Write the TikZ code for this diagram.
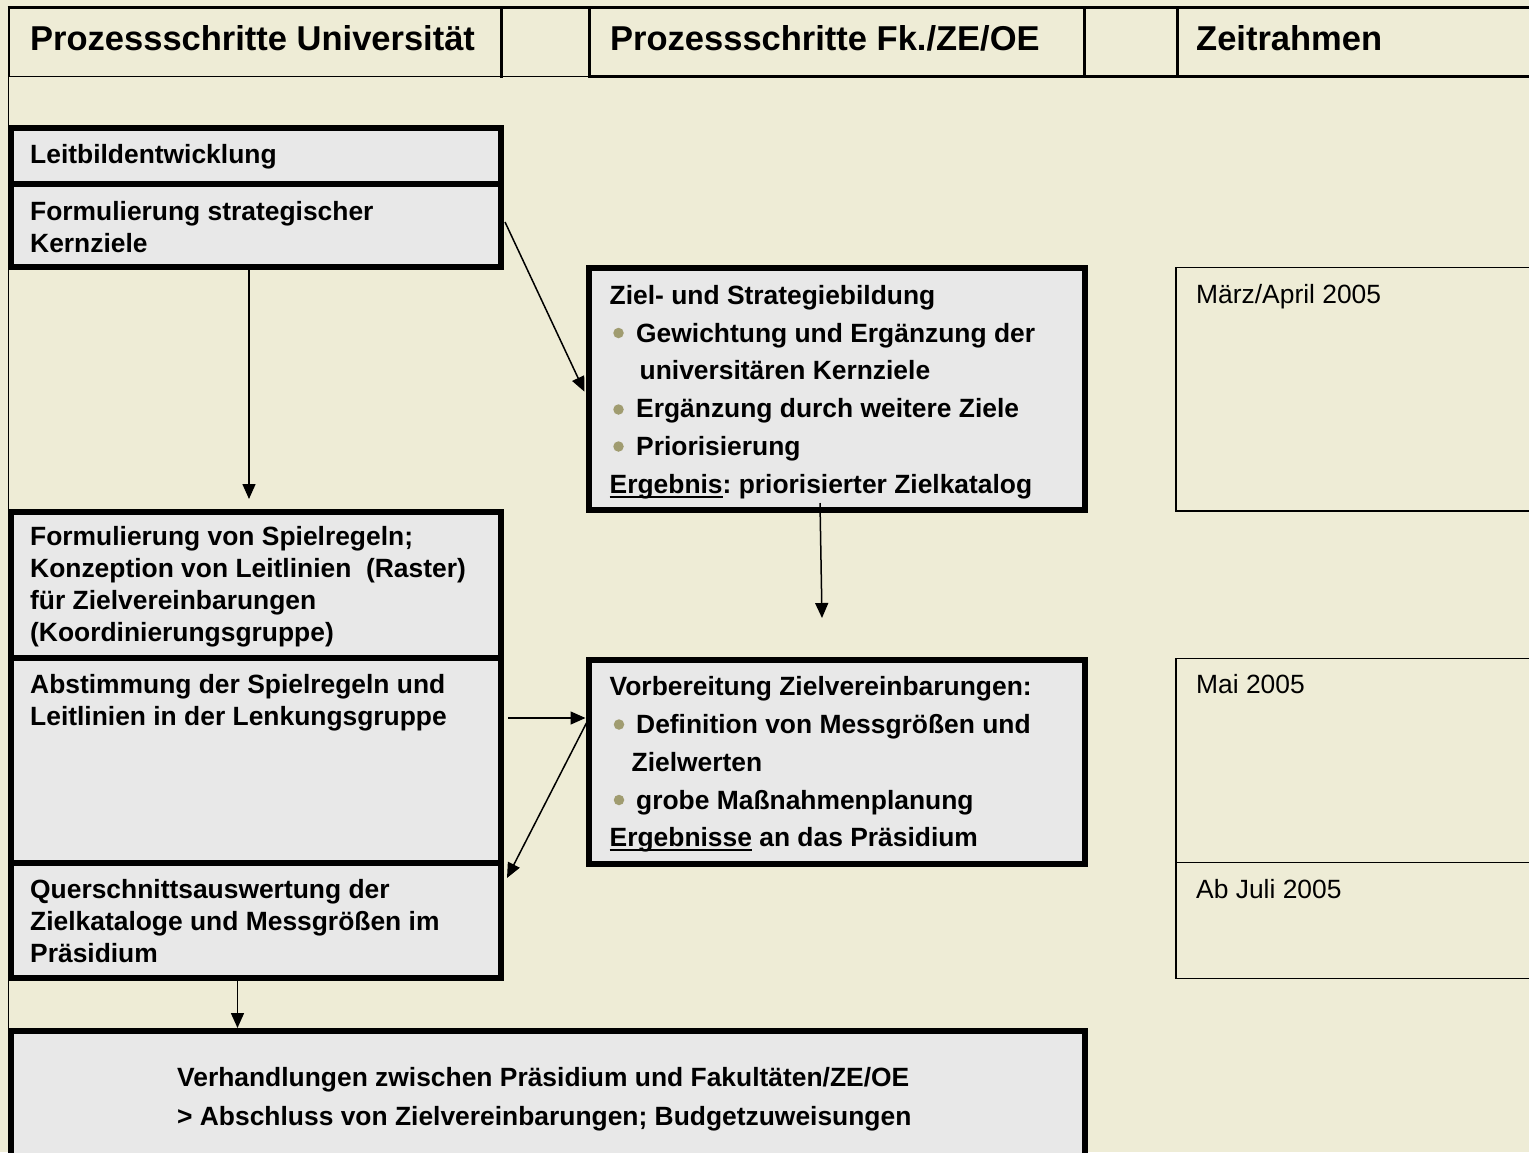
\documentclass[tikz,border=0pt]{standalone}
\usepackage{fontspec}
\setmainfont{Liberation Sans}
\usetikzlibrary{arrows.meta}
\definecolor{bgc}{RGB}{238,236,214}
\definecolor{boxfill}{RGB}{232,232,232}
\definecolor{dotc}{RGB}{160,156,112}
\newcommand\myul[1]{\leavevmode\setbox0\hbox{#1}\rlap{\rule[-4.5pt]{\wd0}{2pt}}\box0\relax}
\frenchspacing
\begin{document}
\begin{tikzpicture}[x=1pt,y=-1pt,
  box/.style={draw=black, line width=6pt, fill=boxfill, inner sep=0pt, outer sep=0pt, anchor=north west},
  thinbox/.style={draw=black, line width=1.3pt, inner sep=0pt, outer sep=0pt, anchor=north west},
  htxt/.style={anchor=base west, inner sep=0pt, font=\bfseries\fontsize{34.5}{40}\selectfont},
  ltxt/.style={anchor=base west, inner sep=0pt, align=left, font=\bfseries\fontsize{26.4}{32.2}\selectfont},
  mtxt/.style={anchor=base west, inner sep=0pt, align=left, font=\bfseries\fontsize{26.4}{37.8}\selectfont\frenchspacing},
  btxt/.style={anchor=base west, inner sep=0pt, align=left, font=\bfseries\fontsize{26.4}{38.3}\selectfont},
  dtxt/.style={anchor=base west, inner sep=0pt, font=\fontsize{26.4}{30}\selectfont},
  dot/.style={circle, fill=dotc, inner sep=0pt, minimum size=10.5pt},
  arr/.style={line width=1.5pt, -{Triangle[length=15pt,width=13pt]}}
]
\fill[bgc] (0,0) rectangle (1529,1152);
\useasboundingbox (0,0) rectangle (1529,1152);

% header table
\draw[line width=1.3pt] (8.5,76.5) -- (8.5,1160);
\draw[line width=1.3pt] (9,76.7) -- (589.5,76.7);
\draw[line width=3pt] (589.5,76.5) -- (1540,76.5);
\draw[line width=3pt] (7.5,7.5) -- (1540,7.5);
\draw[line width=2.5pt] (9,6) -- (9,77);
\foreach \xx in {501,589.5,1084.5,1177}{\draw[line width=3pt] (\xx,6) -- (\xx,78);}
\node[htxt] (h1) at (30,50) {Prozessschritte Universität};
\node[htxt] (h2) at (610,50) {Prozessschritte Fk./ZE/OE};
\node[htxt] (h3) at (1196,50) {Zeitrahmen};

% time frame boxes
\node[thinbox, minimum width=400pt, minimum height=243.7pt] (mz) at (1176,267.3) {};
\node[thinbox, minimum width=400pt, minimum height=204.4pt] (mai) at (1176,658.3) {};
\node[thinbox, minimum width=400pt, minimum height=115.6pt] (jul) at (1176,862.7) {};
\node[dtxt] (d1) at (1196,303.3) {März/April 2005};
\node[dtxt] (d2) at (1196,693.3) {Mai 2005};
\node[dtxt] (d3) at (1196,898.3) {Ab Juli 2005};

% left column
\node[box, minimum width=490.5pt, minimum height=56.5pt] (lb) at (10.5,127.5) {};
\node[box, minimum width=490.5pt, minimum height=83pt] (fs) at (10.5,184) {};
\node[box, minimum width=490.5pt, minimum height=146.5pt] (sp) at (10.5,511.5) {};
\node[box, minimum width=490.5pt, minimum height=205pt] (ab) at (10.5,658) {};
\node[box, minimum width=490.5pt, minimum height=115pt] (qs) at (10.5,863) {};

% middle column
\node[box, minimum width=496.5pt, minimum height=242pt] (zb) at (588.5,268) {};
\node[box, minimum width=496.5pt, minimum height=204pt] (vb) at (588.5,659.5) {};

% bottom
\node[box, minimum width=1074pt, minimum height=139pt] (vh) at (11,1031) {};

% texts (anchor = baseline of the last line)
\node[ltxt] (tlb) at (30,163.3) {Leitbildentwicklung};
\node[ltxt] (tfs) at (30,252.2) {Formulierung strategischer\\Kernziele};
\node[ltxt] (tsp) at (30,641.6) {Formulierung von Spielregeln;\\Konzeption von Leitlinien\ \ (Raster)\\für Zielvereinbarungen\\(Koordinierungsgruppe)};
\node[ltxt] (tab) at (30,725.5) {Abstimmung der Spielregeln und\\Leitlinien in der Lenkungsgruppe};
\node[ltxt] (tqs) at (30,962.5) {Querschnittsauswertung der\\Zielkataloge und Messgrößen im\\Präsidium};

\node[mtxt] (tzb) at (609.5,493.3) {Ziel- und Strategiebildung\\
\hspace*{26.5pt}Gewichtung und Ergänzung der\\
\hspace*{30pt}universitären Kernziele\\
\hspace*{26.5pt}Ergänzung durch weitere Ziele\\
\hspace*{26.5pt}Priorisierung\\
\myul{Ergebnis}: priorisierter Zielkatalog};
\node[dot] (b1) at (618.5,333) {};
\node[dot] (b2) at (618.5,409.5) {};
\node[dot] (b3) at (618.5,446.5) {};

\node[mtxt] (tvb) at (609.5,846.9) {Vorbereitung Zielvereinbarungen:\\
\hspace*{26.5pt}Definition von Messgrößen und\\
\hspace*{22pt}Zielwerten\\
\hspace*{26.5pt}grobe Maßnahmenplanung\\
\myul{Ergebnisse} an das Präsidium};
\node[dot] (b4) at (619,724.5) {};
\node[dot] (b5) at (619,800) {};

\node[btxt] (tvh) at (177,1125) {Verhandlungen zwischen Präsidium und Fakultäten/ZE/OE\\> Abschluss von Zielvereinbarungen; Budgetzuweisungen};

% connectors
\draw[arr] ([xshift=4pt,yshift=3.5pt]fs.east) -- ([xshift=-4pt,yshift=-2.7pt]zb.west);
\coordinate (a2) at ([xshift=-6.75pt,yshift=-3pt]fs.south);
\draw[arr, shorten >=12.5pt] (a2) -- (a2 |- sp.north);
\draw[arr] ([xshift=-16.75pt,yshift=7pt]zb.south) -- ([xshift=-14.75pt,yshift=41.5pt]vb.north);
\draw[arr] ([xshift=7pt,yshift=42.5pt]ab.east) -- ([xshift=-3pt,yshift=43.5pt]vb.west);
\draw[arr] ([xshift=-0.5pt,yshift=41.5pt]vb.west) -- ([xshift=6pt,yshift=-15pt]qs.north east);
\coordinate (a6) at ([xshift=-18.25pt,yshift=-3pt]qs.south);
\draw[arr, shorten >=3pt] (a6) -- (a6 |- vh.north);
\end{tikzpicture}
\end{document}
